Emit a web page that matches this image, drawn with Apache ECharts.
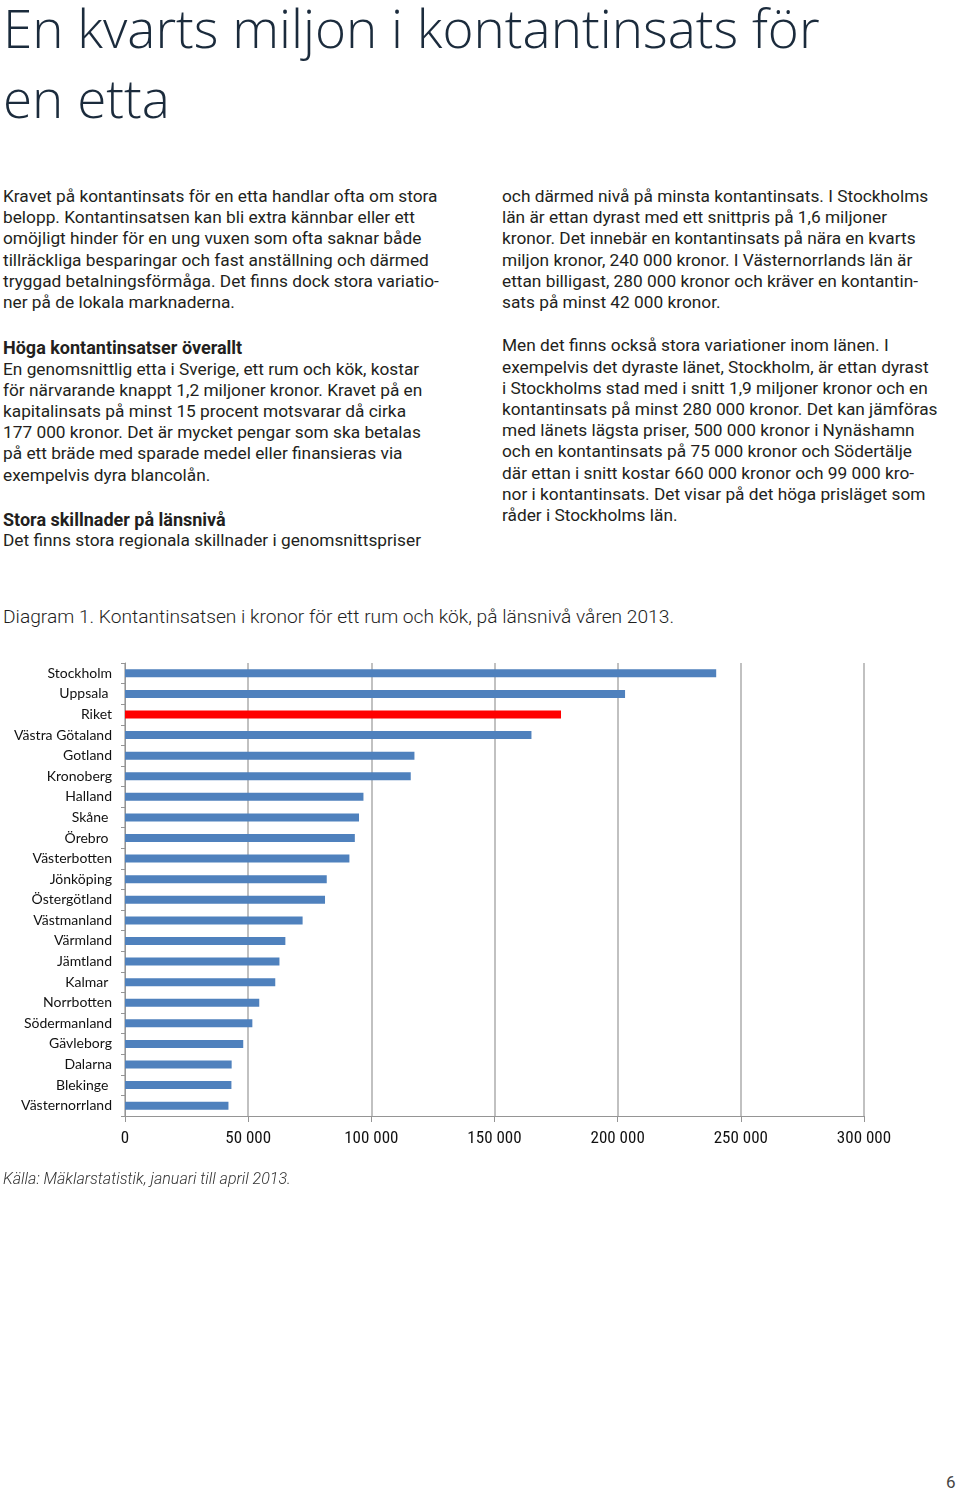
<!DOCTYPE html>
<html><head><meta charset="utf-8">
<script src="https://cdn.jsdelivr.net/npm/echarts/dist/echarts.min.js"></script>
<style>
html,body{margin:0;padding:0;background:#fff;}
body{width:960px;height:1491px;position:relative;overflow:hidden;}
.abs{position:absolute;white-space:nowrap;}
#title{left:3px;top:-7px;font-family:"Open Sans",sans-serif;font-weight:300;font-size:53px;line-height:70px;color:#1b2b3c;}
.col{font-family:Roboto,"Liberation Sans",sans-serif;font-size:17.3px;line-height:21.2px;color:#231f20;}
.col p{margin:0;}
.col .gap{height:21.2px;}
.col .h{font-weight:bold;font-size:18px;position:relative;top:3px;margin-bottom:0;}
#caption{left:3px;top:605px;font-family:Roboto,sans-serif;font-weight:300;font-size:19.2px;color:#1e1e1e;}
#source{left:3px;top:1169px;font-family:Roboto,sans-serif;font-style:italic;font-weight:300;font-size:16px;color:#333;}
#page{left:946px;top:1472px;font-family:Roboto,sans-serif;font-size:17px;color:#444;}
#chart{position:absolute;left:0;top:640px;width:960px;height:540px;}
</style></head><body>
<div id="title" class="abs">En kvarts miljon i kontantinsats för<br>en etta</div>
<div class="abs col" style="left:3px;top:186px;">
<p>Kravet på kontantinsats för en etta handlar ofta om stora<br>belopp. Kontantinsatsen kan bli extra kännbar eller ett<br>omöjligt hinder för en ung vuxen som ofta saknar både<br>tillräckliga besparingar och fast anställning och därmed<br>tryggad betalningsförmåga. Det finns dock stora variatio-<br>ner på de lokala marknaderna.</p>
<div class="gap"></div>
<p class="h">Höga kontantinsatser överallt</p>
<p style="position:relative;top:3px;">En genomsnittlig etta i Sverige, ett rum och kök, kostar<br>för närvarande knappt 1,2 miljoner kronor. Kravet på en<br>kapitalinsats på minst 15 procent motsvarar då cirka<br>177 000 kronor. Det är mycket pengar som ska betalas<br>på ett bräde med sparade medel eller finansieras via<br>exempelvis dyra blancolån.</p>
<div class="gap"></div>
<p class="h" style="top:5px;">Stora skillnader på länsnivå</p>
<p style="position:relative;top:5px;">Det finns stora regionala skillnader i genomsnittspriser</p>
</div>
<div class="abs col" style="left:502px;top:186px;">
<p>och därmed nivå på minsta kontantinsats. I Stockholms<br>län är ettan dyrast med ett snittpris på 1,6 miljoner<br>kronor. Det innebär en kontantinsats på nära en kvarts<br>miljon kronor, 240 000 kronor. I Västernorrlands län är<br>ettan billigast, 280 000 kronor och kräver en kontantin-<br>sats på minst 42 000 kronor.</p>
<div class="gap"></div>
<p style="position:relative;top:1px;">Men det finns också stora variationer inom länen. I<br>exempelvis det dyraste länet, Stockholm, är ettan dyrast<br>i Stockholms stad med i snitt 1,9 miljoner kronor och en<br>kontantinsats på minst 280 000 kronor. Det kan jämföras<br>med länets lägsta priser, 500 000 kronor i Nynäshamn<br>och en kontantinsats på 75 000 kronor och Södertälje<br>där ettan i snitt kostar 660 000 kronor och 99 000 kro-<br>nor i kontantinsats. Det visar på det höga prisläget som<br>råder i Stockholms län.</p>
</div>
<div id="caption" class="abs">Diagram 1. Kontantinsatsen i kronor för ett rum och kök, på länsnivå våren 2013.</div>
<div id="chart"></div>
<div id="source" class="abs">Källa: Mäklarstatistik, januari till april 2013.</div>
<div id="page" class="abs">6</div>
<script>
const categories = ['Stockholm','Uppsala ','Riket','Västra Götaland','Gotland','Kronoberg','Halland','Skåne ','Örebro ','Västerbotten','Jönköping','Östergötland','Västmanland','Värmland','Jämtland','Kalmar ','Norrbotten','Södermanland','Gävleborg','Dalarna','Blekinge ','Västernorrland'];
const values = [240000,203000,177000,165000,117500,116000,96800,95000,93300,91100,81900,81200,72100,65100,62700,61000,54500,51700,48000,43300,43200,42000];
const highlightCategory = 'Riket';
const xTickValues = [0,50000,100000,150000,200000,250000,300000];
const xTickLabels = ['0','50 000','100 000','150 000','200 000','250 000','300 000'];

const BLUE = '#4f81bd', RED = '#ff0000', GRID = '#adadad', AXIS = '#959595';
const chart = echarts.init(document.getElementById('chart'), null, {renderer:'canvas'});
chart.setOption({
  animation:false,
  grid:{left:125, top:23, width:739, height:453, containLabel:false},
  xAxis:{
    type:'value', min:xTickValues[0], max:xTickValues[xTickValues.length-1], interval:xTickValues[1]-xTickValues[0],
    axisLine:{show:true, lineStyle:{color:AXIS, width:1}},
    axisTick:{show:true, length:6, lineStyle:{color:AXIS}},
    splitLine:{show:true, lineStyle:{color:GRID, width:1.5}},
    axisLabel:{margin:14, color:'#111', fontFamily:'"Liberation Sans Narrow","Roboto Condensed",sans-serif', fontSize:17,
      formatter:v => { const i = xTickValues.indexOf(v); return i>=0 ? xTickLabels[i] : ''; }}
  },
  yAxis:{
    type:'category', data:categories, inverse:true,
    axisLine:{show:true, lineStyle:{color:AXIS, width:1}},
    axisTick:{show:true, length:4, lineStyle:{color:AXIS}},
    axisLabel:{margin:13, color:'#111', fontFamily:'Lato,"Open Sans",sans-serif', fontSize:14}
  },
  series:[{
    type:'bar', barWidth:8,
    data: values.map((v,i)=>({value:v, itemStyle:{color: categories[i].trim()===highlightCategory ? RED : BLUE}}))
  }]
});
</script>
</body></html>
